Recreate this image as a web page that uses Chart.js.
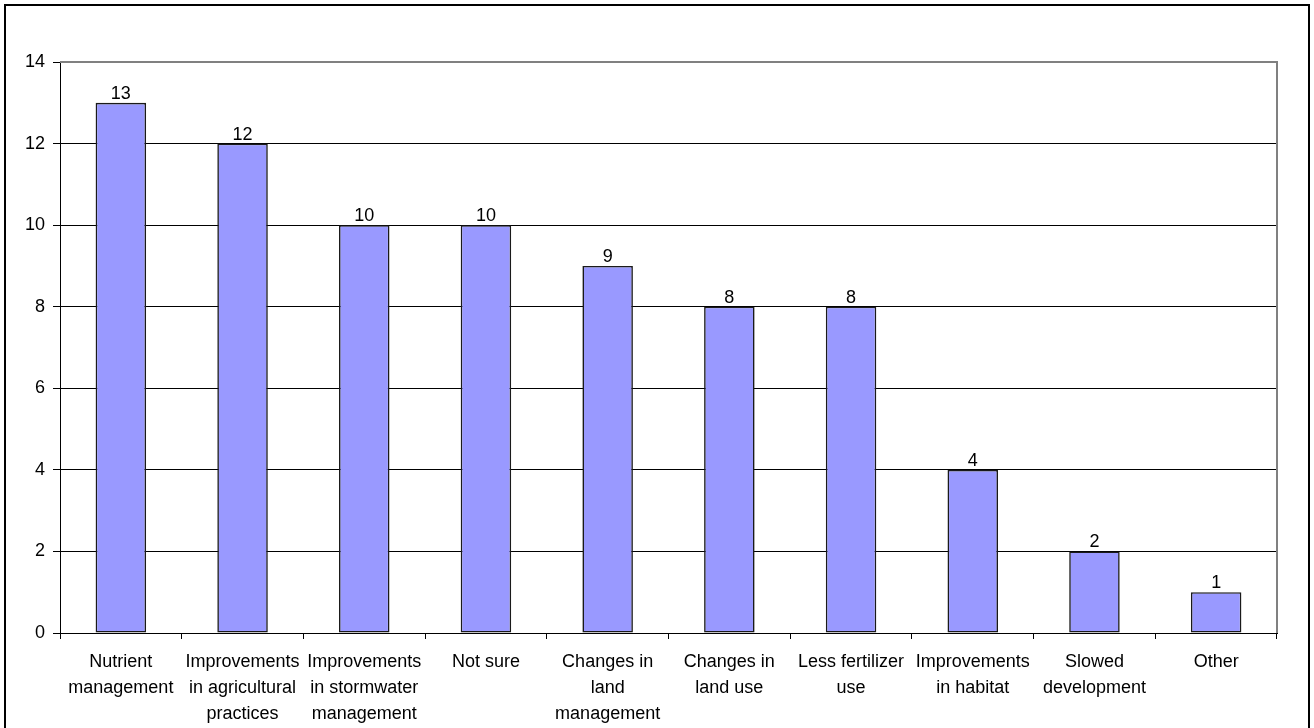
<!DOCTYPE html>
<html>
<head>
<meta charset="utf-8">
<script src="https://cdn.jsdelivr.net/npm/chart.js@4/dist/chart.umd.min.js"></script>
<style>
html,body{margin:0;padding:0;background:#fff;overflow:hidden;}
canvas{display:block;}
</style>
</head>
<body>
<canvas id="c" width="1314" height="728"></canvas>
<script>
const categories = [
  ["Nutrient", "management"],
  ["Improvements", "in agricultural", "practices"],
  ["Improvements", "in stormwater", "management"],
  ["Not sure"],
  ["Changes in", "land", "management"],
  ["Changes in", "land use"],
  ["Less fertilizer", "use"],
  ["Improvements", "in habitat"],
  ["Slowed", "development"],
  ["Other"]
];
const responses = [13, 12, 10, 10, 9, 8, 8, 4, 2, 1];
const yTicks = [0, 2, 4, 6, 8, 10, 12, 14];

const FONT = "'Liberation Sans', Arial, sans-serif";

const framePlugin = {
  id: 'frame',
  beforeDraw(chart) {
    const ctx = chart.ctx;
    ctx.save();
    ctx.fillStyle = '#fff';
    ctx.fillRect(0, 0, chart.width, chart.height);
    ctx.strokeStyle = '#000';
    ctx.lineWidth = 2;
    ctx.strokeRect(5, 5, 1304, 740);
    ctx.restore();
  },
  afterDraw(chart) {
    const a = chart.chartArea;
    const ctx = chart.ctx;
    ctx.save();
    ctx.strokeStyle = '#808080';
    ctx.lineWidth = 2;
    ctx.beginPath();
    ctx.moveTo(a.left, a.top);
    ctx.lineTo(a.right, a.top);
    ctx.lineTo(a.right, a.bottom);
    ctx.stroke();
    ctx.restore();
  }
};

const valueLabels = {
  id: 'valueLabels',
  afterDatasetsDraw(chart) {
    const ctx = chart.ctx;
    const meta = chart.getDatasetMeta(0);
    ctx.save();
    ctx.font = '18px ' + FONT;
    ctx.fillStyle = '#000';
    ctx.textAlign = 'center';
    ctx.textBaseline = 'alphabetic';
    meta.data.forEach((bar, i) => {
      ctx.fillText(String(responses[i]), bar.x, bar.y - 4);
    });
    ctx.restore();
  }
};

new Chart(document.getElementById('c'), {
  type: 'bar',
  data: {
    labels: categories,
    datasets: [{
      data: responses,
      backgroundColor: '#9999FF',
      borderColor: '#1a1a1a',
      borderWidth: 1.6,
      borderSkipped: false,
      categoryPercentage: 1.0,
      barPercentage: 0.415
    }]
  },
  options: {
    responsive: false,
    animation: false,
    devicePixelRatio: 1,
    layout: { padding: { left: 0, top: 62, right: 37, bottom: 0 } },
    plugins: { legend: { display: false }, tooltip: { enabled: false } },
    scales: {
      x: {
        offset: true,
        grid: {
          offset: true,
          drawOnChartArea: false,
          color: '#000',
          tickLength: 6,
          lineWidth: 1
        },
        border: { color: '#000', width: 1 },
        ticks: {
          color: '#000',
          font: { family: FONT, size: 18, lineHeight: 1.45 },
          padding: 10,
          maxRotation: 0,
          autoSkip: false
        },
        afterFit(scale) { scale.height = 95; }
      },
      y: {
        min: 0,
        max: 14,
        afterBuildTicks(scale) { scale.ticks = yTicks.map(v => ({ value: v })); },
        grid: {
          color: '#000',
          lineWidth: 1,
          tickLength: 7
        },
        border: { color: '#000', width: 1 },
        ticks: {
          color: '#000',
          font: { family: FONT, size: 18 },
          padding: 8
        },
        afterFit(scale) { scale.width = 60; }
      }
    }
  },
  plugins: [framePlugin, valueLabels]
});
</script>
</body>
</html>
